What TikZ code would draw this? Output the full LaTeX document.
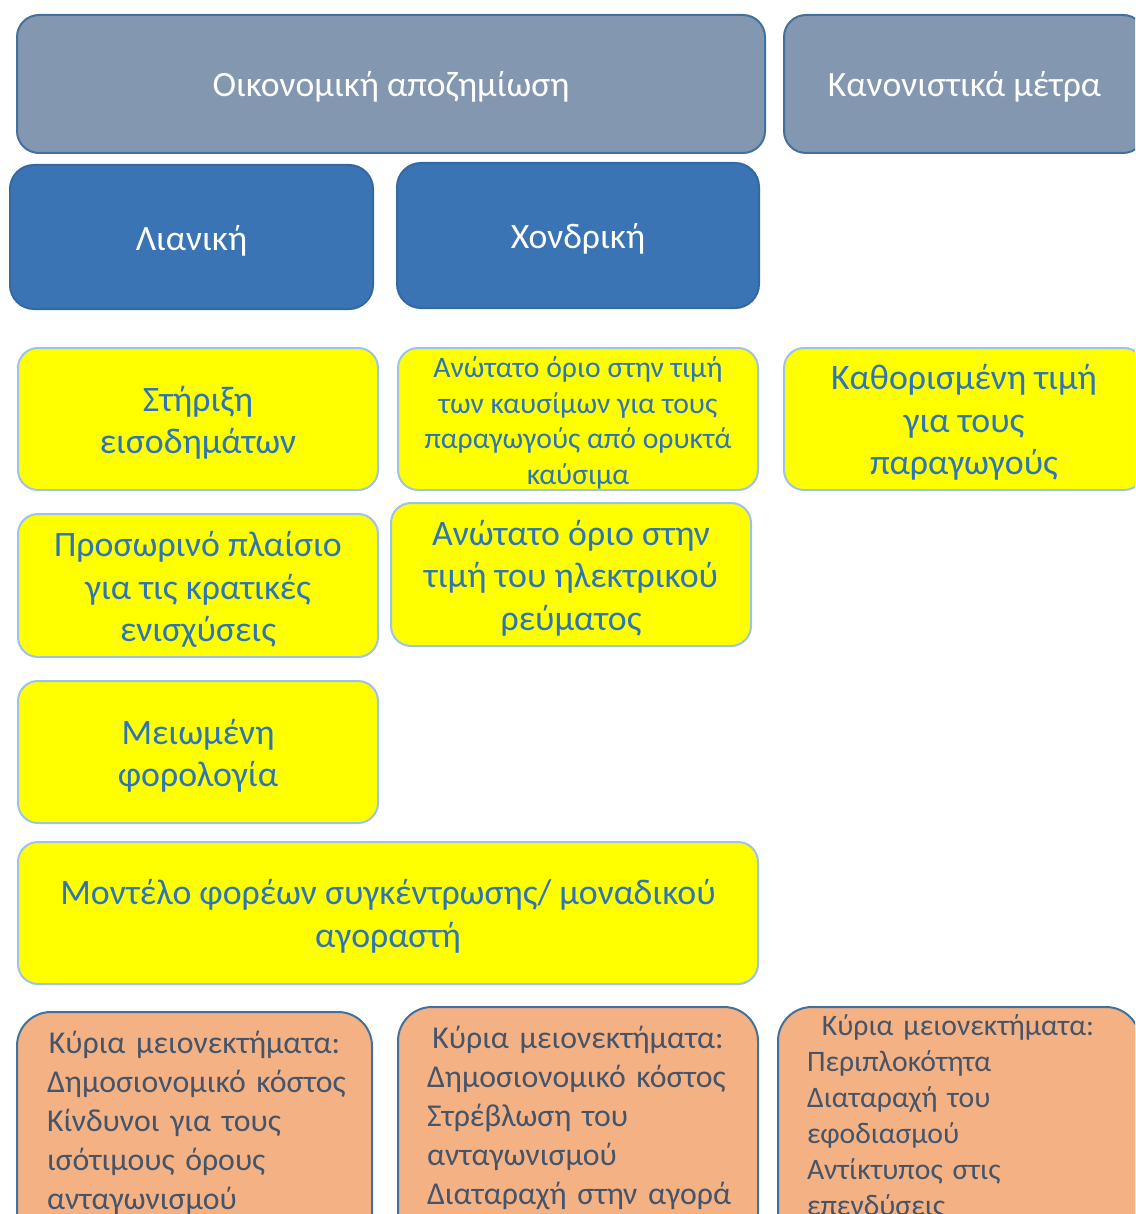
\documentclass[tikz,border=0pt]{standalone}
\usepackage{fontspec}
\setmainfont{Carlito}
\definecolor{greyfill}{RGB}{132,151,176}
\definecolor{greyline}{RGB}{65,113,156}
\definecolor{bluefill}{RGB}{58,116,180}
\definecolor{blueline}{RGB}{52,104,160}
\definecolor{yelline}{RGB}{157,195,230}
\definecolor{yelfill}{RGB}{255,255,0}
\definecolor{yeltext}{RGB}{46,117,182}
\definecolor{orfill}{RGB}{244,177,131}
\definecolor{orline}{RGB}{65,113,156}
\definecolor{ortext}{RGB}{68,84,106}
\tikzset{
  box/.style={anchor=north west, inner sep=0pt, outer sep=0pt},
  greybox/.style={box, fill=greyfill, draw=greyline, line width=2pt, rounded corners=22pt},
  bluebox/.style={box, fill=bluefill, draw=blueline, line width=2pt, rounded corners=24pt},
  yelbox/.style={box, fill=yelfill, draw=yelline, line width=2pt, rounded corners=20pt},
  orbox/.style={box, fill=orfill, draw=orline, line width=2pt, rounded corners=34pt},
  whitetxt/.style={inner sep=0pt, align=center, text=white, font=\fontsize{35.6}{42}\selectfont},
  yeltxt/.style={inner sep=0pt, align=center, text=yeltext, font=\fontsize{35.8}{42.5}\selectfont},
  yelsmalltxt/.style={yeltxt, font=\fontsize{29.7}{35.7}\selectfont},
  ortxt/.style={anchor=base west, inner sep=0pt, outer sep=0pt, text width=345pt, text=ortext,
    font=\fontsize{31.8}{39}\selectfont},
}
\begin{document}
\begin{tikzpicture}[x=1pt,y=-1pt]
\useasboundingbox (0,0) rectangle (1135,1214);
\clip (0,0) rectangle (1135,1214);
% top row
\node[greybox, minimum width=748pt, minimum height=138pt] (g1) at (17,15) {};
\node[greybox, minimum width=361pt, minimum height=138pt] (g2) at (784,15) {};
\node[whitetxt] (g1t) at ([yshift=-3pt]g1.center) {Οικονομική αποζημίωση};
\node[whitetxt] (g2t) at ([yshift=-3pt]g2.center) {Κανονιστικά μέτρα};
% blue
\node[bluebox, minimum width=363pt, minimum height=144pt] (b1) at (10,165) {};
\node[bluebox, minimum width=362pt, minimum height=145pt] (b2) at (397,163) {};
\node[whitetxt] (b1t) at ([yshift=-4pt]b1.center) {Λιανική};
\node[whitetxt] (b2t) at ([yshift=-3pt]b2.center) {Χονδρική};
% yellow
\node[yelbox, minimum width=360pt, minimum height=142pt] (y1) at (18,348) {};
\node[yelbox, minimum width=360pt, minimum height=142pt] (y2) at (398,348) {};
\node[yelbox, minimum width=360pt, minimum height=142pt] (y3) at (784,348) {};
\node[yelbox, minimum width=360pt, minimum height=143pt] (y4) at (18,514) {};
\node[yelbox, minimum width=360pt, minimum height=143pt] (y5) at (391,503) {};
\node[yelbox, minimum width=360pt, minimum height=142pt] (y6) at (18,681) {};
\node[yelbox, minimum width=740pt, minimum height=142pt] (y7) at (18,842) {};
\node[yeltxt] (y1t) at ([yshift=-4pt]y1.center) {Στήριξη\\εισοδημάτων};
\node[yelsmalltxt] (y2t) at ([yshift=-4pt]y2.center) {Ανώτατο όριο στην τιμή\\των καυσίμων για τους\\παραγωγούς από ορυκτά\\καύσιμα};
\node[yeltxt] (y3t) at ([yshift=-3.5pt]y3.center) {Καθορισμένη τιμή\\για τους\\παραγωγούς};
\node[yeltxt] (y4t) at ([yshift=-4pt]y4.center) {Προσωρινό πλαίσιο\\για τις κρατικές\\ενισχύσεις};
\node[yeltxt] (y5t) at ([yshift=-3.5pt]y5.center) {Ανώτατο όριο στην\\τιμή του ηλεκτρικού\\ρεύματος};
\node[yeltxt] (y6t) at ([yshift=-4pt]y6.center) {Μειωμένη\\φορολογία};
\node[yeltxt] (y7t) at ([yshift=-3.5pt]y7.center) {Μοντέλο φορέων συγκέντρωσης/ μοναδικού\\αγοραστή};
% orange
\node[orbox, minimum width=355pt, minimum height=240pt] (o1) at (17,1012) {};
\node[orbox, minimum width=360pt, minimum height=240pt] (o2) at (398,1007) {};
\node[orbox, minimum width=362pt, minimum height=240pt] (o3) at (778,1007) {};
\node[ortxt] (o1t) at (47,1053) {\raggedright\makebox[295pt]{Κύρια μειονεκτήματα:}\\Δημοσιονομικό κόστος\\Κίνδυνοι για τους\\ισότιμους όρους\\ανταγωνισμού};
\node[ortxt] (o2t) at (427,1048) {\raggedright\makebox[302pt]{Κύρια μειονεκτήματα:}\\Δημοσιονομικό κόστος\\Στρέβλωση του\\ανταγωνισμού\\Διαταραχή στην αγορά};
\node[ortxt, font=\fontsize{29.7}{36}\selectfont] (o3t) at (807,1035) {\raggedright\makebox[302pt]{Κύρια μειονεκτήματα:}\\Περιπλοκότητα\\Διαταραχή του\\εφοδιασμού\\Αντίκτυπος στις\\επενδύσεις};
\end{tikzpicture}
\end{document}
